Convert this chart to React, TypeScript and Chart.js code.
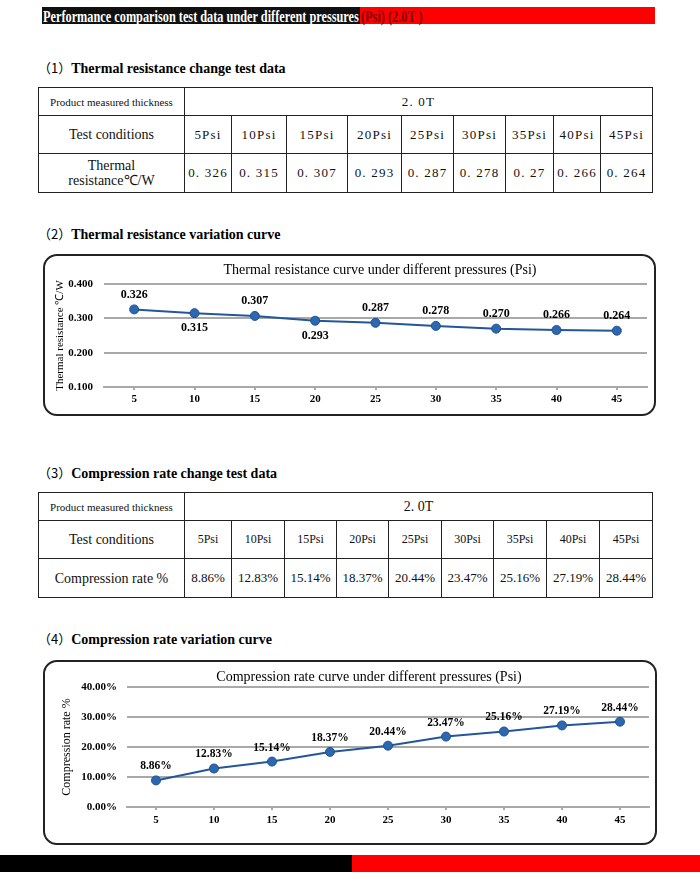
import React, { useEffect, useRef } from "react";
import { Chart, registerables } from "chart.js";
Chart.register(...registerables);

// ---------- data ----------
const pressures = ["5", "10", "15", "20", "25", "30", "35", "40", "45"];
const psiLabels = ["5Psi", "10Psi", "15Psi", "20Psi", "25Psi", "30Psi", "35Psi", "40Psi", "45Psi"];
const thermalResistance = [0.326, 0.315, 0.307, 0.293, 0.287, 0.278, 0.27, 0.266, 0.264];
const thermalResistanceText = ["0. 326", "0. 315", "0. 307", "0. 293", "0. 287", "0. 278", "0. 27", "0. 266", "0. 264"];
const compressionRate = [8.86, 12.83, 15.14, 18.37, 20.44, 23.47, 25.16, 27.19, 28.44];
const compressionRateText = ["8.86%", "12.83%", "15.14%", "18.37%", "20.44%", "23.47%", "25.16%", "27.19%", "28.44%"];
const thermalSides = ["above", "below", "above", "below", "above", "above", "above", "above", "above"];
const compressionSides = ["above", "above", "above", "above", "above", "above", "above", "above", "above"];
const thicknessText = "2. 0T";

const SERIF = '"Liberation Serif","Times New Roman",serif';
const CJK = '"Noto Sans CJK SC",sans-serif';

type ChartCfg = {
  values: number[];
  title: string;
  titleX: number;
  titleY: number;
  yTitle: string;
  yTitleSize: number;
  yTitlePad: number;
  yMin: number;
  yMax: number;
  yStep: number;
  tickFmt: (v: number) => string;
  areaLeft: number;
  areaTop: number;
  areaBottom: number;
  padRight: number;
  yTickPad: number;
  xTickPad: number;
  sides: string[];
  labelSize: number;
  labelOff: number;
  width: number;
  height: number;
};

function LineChart({ cfg, left, top }: { cfg: ChartCfg; left: number; top: number }) {
  const ref = useRef<HTMLCanvasElement>(null);
  useEffect(() => {
    const canvas = ref.current!;
    const titlePlugin = {
      id: "centerTitle",
      afterDraw(chart: any) {
        const ctx = chart.ctx;
        ctx.save();
        ctx.font = `14px ${SERIF}`;
        ctx.fillStyle = "#000";
        ctx.textAlign = "center";
        ctx.textBaseline = "middle";
        ctx.fillText(cfg.title, cfg.titleX, cfg.titleY);
        ctx.restore();
      },
    };
    const labelPlugin = {
      id: "pointLabels",
      afterDatasetsDraw(chart: any) {
        const ctx = chart.ctx;
        const meta = chart.getDatasetMeta(0);
        ctx.save();
        ctx.font = `bold ${cfg.labelSize}px ${SERIF}`;
        ctx.fillStyle = "#000";
        ctx.textAlign = "center";
        ctx.textBaseline = "middle";
        meta.data.forEach((pt: any, i: number) => {
          const dy = cfg.sides[i] === "below" ? cfg.labelOff : -cfg.labelOff;
          ctx.fillText(cfg.tickFmt(cfg.values[i]), pt.x, pt.y + dy);
        });
        ctx.restore();
      },
    };
    const chart = new Chart(canvas, {
      type: "line",
      data: {
        labels: pressures,
        datasets: [
          {
            data: cfg.values,
            borderColor: "#23569b",
            borderWidth: 2,
            pointBackgroundColor: "#2c68b0",
            pointBorderColor: "#1f4f8f",
            pointBorderWidth: 1,
            pointRadius: 4.5,
            tension: 0,
          },
        ],
      },
      options: {
        animation: false,
        responsive: false,
        events: [],
        layout: { padding: { top: cfg.areaTop, right: cfg.padRight, left: 0, bottom: 0 } },
        plugins: { legend: { display: false }, tooltip: { enabled: false }, title: { display: false } },
        scales: {
          x: {
            type: "category",
            offset: true,
            afterFit: (s: any) => {
              s.height = cfg.height - cfg.areaBottom;
            },
            border: { display: true, color: "#a9a9a9", width: 2 },
            grid: { drawOnChartArea: false, drawTicks: true, tickLength: 3, color: "#a9a9a9", lineWidth: 2 },
            ticks: { color: "#000", font: { family: SERIF, size: 11, weight: "bold" }, padding: cfg.xTickPad, maxRotation: 0 },
          },
          y: {
            min: cfg.yMin,
            max: cfg.yMax,
            afterFit: (s: any) => {
              s.width = cfg.areaLeft;
            },
            border: { display: false },
            grid: { color: "#a9a9a9", lineWidth: 2, drawTicks: false },
            ticks: {
              stepSize: cfg.yStep,
              color: "#000",
              padding: cfg.yTickPad,
              font: { family: SERIF, size: 11, weight: "bold" },
              callback: (v: any) => cfg.tickFmt(Number(v)),
            },
            title: {
              display: true,
              text: cfg.yTitle,
              color: "#000",
              font: { family: SERIF, size: cfg.yTitleSize },
              padding: { top: cfg.yTitlePad, bottom: 0 },
            },
          },
        },
      } as any,
      plugins: [titlePlugin, labelPlugin],
    });
    return () => chart.destroy();
  }, []);
  return (
    <canvas
      ref={ref}
      width={cfg.width}
      height={cfg.height}
      style={{ position: "absolute", left, top, width: cfg.width, height: cfg.height }}
    />
  );
}

const thermalCfg: ChartCfg = {
  values: thermalResistance,
  title: "Thermal resistance curve under different pressures (Psi)",
  titleX: 335,
  titleY: 14,
  yTitle: "Thermal resistance \u2103/W",
  yTitleSize: 11,
  yTitlePad: 9,
  yMin: 0.1,
  yMax: 0.4,
  yStep: 0.1,
  tickFmt: (v) => v.toFixed(3),
  areaLeft: 59,
  areaTop: 28,
  areaBottom: 131,
  padRight: 7,
  yTickPad: 11,
  xTickPad: 3,
  sides: thermalSides,
  labelSize: 12,
  labelOff: 15,
  width: 609,
  height: 158,
};

const compressionCfg: ChartCfg = {
  values: compressionRate,
  title: "Compression rate curve under different pressures (Psi)",
  titleX: 324,
  titleY: 15,
  yTitle: "Compression rate %",
  yTitleSize: 12,
  yTitlePad: 15,
  yMin: 0,
  yMax: 40,
  yStep: 10,
  tickFmt: (v) => v.toFixed(2) + "%",
  areaLeft: 82,
  areaTop: 25,
  areaBottom: 145,
  padRight: 7,
  yTickPad: 10,
  xTickPad: 4,
  sides: compressionSides,
  labelSize: 11.5,
  labelOff: 14,
  width: 611,
  height: 181,
};

function measure(text: string, font: string) {
  const c = document.createElement("canvas").getContext("2d")!;
  c.font = font;
  return c.measureText(text).width;
}

function SectionTitle({ top, num, text }: { top: number; num: string; text: string }) {
  return (
    <div style={{ position: "absolute", left: 38, top, height: 18, lineHeight: "18px", whiteSpace: "nowrap" }}>
      <span style={{ font: `13px ${CJK}` }}>{`（${num}）`}</span>
      <span style={{ font: `bold 14px ${SERIF}` }}>{text}</span>
    </div>
  );
}

type TableProps = {
  top: number;
  colWidths: number[];
  thickStyle: React.CSSProperties;
  psiStyle: React.CSSProperties;
  rowLabel: React.ReactNode;
  values: string[];
  valueStyle: React.CSSProperties;
};

function DataTable({ top, colWidths, thickStyle, psiStyle, rowLabel, values, valueStyle }: TableProps) {
  const cell: React.CSSProperties = {
    border: "1px solid #222",
    textAlign: "center",
    verticalAlign: "middle",
    padding: 0,
    whiteSpace: "nowrap",
    overflow: "hidden",
    color: "#111",
  };
  return (
    <table
      style={{
        position: "absolute",
        left: 38,
        top,
        width: 614,
        borderCollapse: "collapse",
        tableLayout: "fixed",
      }}
    >
      <colgroup>
        {colWidths.map((w, i) => (
          <col key={i} style={{ width: w }} />
        ))}
      </colgroup>
      <tbody>
        <tr style={{ height: 28 }}>
          <td style={{ ...cell, font: `11px ${SERIF}` }}>Product measured thickness</td>
          <td colSpan={9} style={{ ...cell, ...thickStyle }}>
            {thicknessText}
          </td>
        </tr>
        <tr style={{ height: 38 }}>
          <td style={{ ...cell, font: `14px ${SERIF}` }}>Test conditions</td>
          {psiLabels.map((p) => (
            <td key={p} style={{ ...cell, ...psiStyle }}>
              {p}
            </td>
          ))}
        </tr>
        <tr style={{ height: 39 }}>
          <td style={{ ...cell, font: `14px ${SERIF}`, lineHeight: "15px", whiteSpace: "normal" }}>{rowLabel}</td>
          {values.map((v, i) => (
            <td key={i} style={{ ...cell, ...valueStyle }}>
              {v}
            </td>
          ))}
        </tr>
      </tbody>
    </table>
  );
}

const spaced: React.CSSProperties = { font: `13px ${SERIF}`, letterSpacing: "1.2px" };

export default function App() {
  const barFont = `bold 16.5px ${SERIF}`;
  const whiteText = "Performance comparison test data under different pressures";
  const redText = "(Psi) (2.0T )";
  const sx = 316 / measure(whiteText, barFont);
  return (
    <div style={{ position: "absolute", left: 0, top: 0, width: 700, height: 883, background: "#fff", overflow: "hidden" }}>
      {/* top banner */}
      <div style={{ position: "absolute", left: 42, top: 7, width: 318, height: 17, background: "#111" }} />
      <div style={{ position: "absolute", left: 360, top: 7, width: 295, height: 17, background: "#ff0000" }} />
      <div
        style={{
          position: "absolute",
          left: 43,
          top: 7,
          height: 17,
          lineHeight: "17px",
          font: barFont,
          color: "#fff",
          whiteSpace: "nowrap",
          transform: `scaleX(${sx})`,
          transformOrigin: "left center",
        }}
      >
        {whiteText}
      </div>
      <div
        style={{
          position: "absolute",
          left: 361,
          top: 7,
          height: 17,
          lineHeight: "17px",
          font: barFont,
          color: "#7a0000",
          whiteSpace: "nowrap",
          transform: `scaleX(${sx})`,
          transformOrigin: "left center",
        }}
      >
        {redText}
      </div>

      <SectionTitle top={58} num="1" text="Thermal resistance change test data" />
      <DataTable
        top={87}
        colWidths={[146, 47, 55, 61, 54, 52, 52, 48, 47, 52]}
        thickStyle={spaced}
        psiStyle={spaced}
        rowLabel={
          <>
            Thermal
            <br />
            resistance℃/W
          </>
        }
        values={thermalResistanceText}
        valueStyle={spaced}
      />

      <SectionTitle top={224} num="2" text="Thermal resistance variation curve" />
      <div
        style={{
          position: "absolute",
          left: 43,
          top: 254,
          width: 613,
          height: 162,
          boxSizing: "border-box",
          border: "2px solid #222",
          borderRadius: 14,
        }}
      />
      <LineChart cfg={thermalCfg} left={45} top={256} />

      <SectionTitle top={463} num="3" text="Compression rate change test data" />
      <DataTable
        top={492}
        colWidths={[146, 47, 53, 52, 52, 53, 52, 53, 53, 53]}
        thickStyle={{ font: `14px ${SERIF}` }}
        psiStyle={{ font: `12px ${SERIF}` }}
        rowLabel={<>Compression rate %</>}
        values={compressionRateText}
        valueStyle={{ font: `13px ${SERIF}` }}
      />

      <SectionTitle top={629} num="4" text="Compression rate variation curve" />
      <div
        style={{
          position: "absolute",
          left: 43,
          top: 660,
          width: 614,
          height: 185,
          boxSizing: "border-box",
          border: "2px solid #222",
          borderRadius: 14,
        }}
      />
      <LineChart cfg={compressionCfg} left={45} top={662} />

      {/* bottom banner */}
      <div style={{ position: "absolute", left: 0, top: 855, width: 352, height: 17, background: "#000" }} />
      <div style={{ position: "absolute", left: 352, top: 855, width: 348, height: 17, background: "#ff0000" }} />
    </div>
  );
}
